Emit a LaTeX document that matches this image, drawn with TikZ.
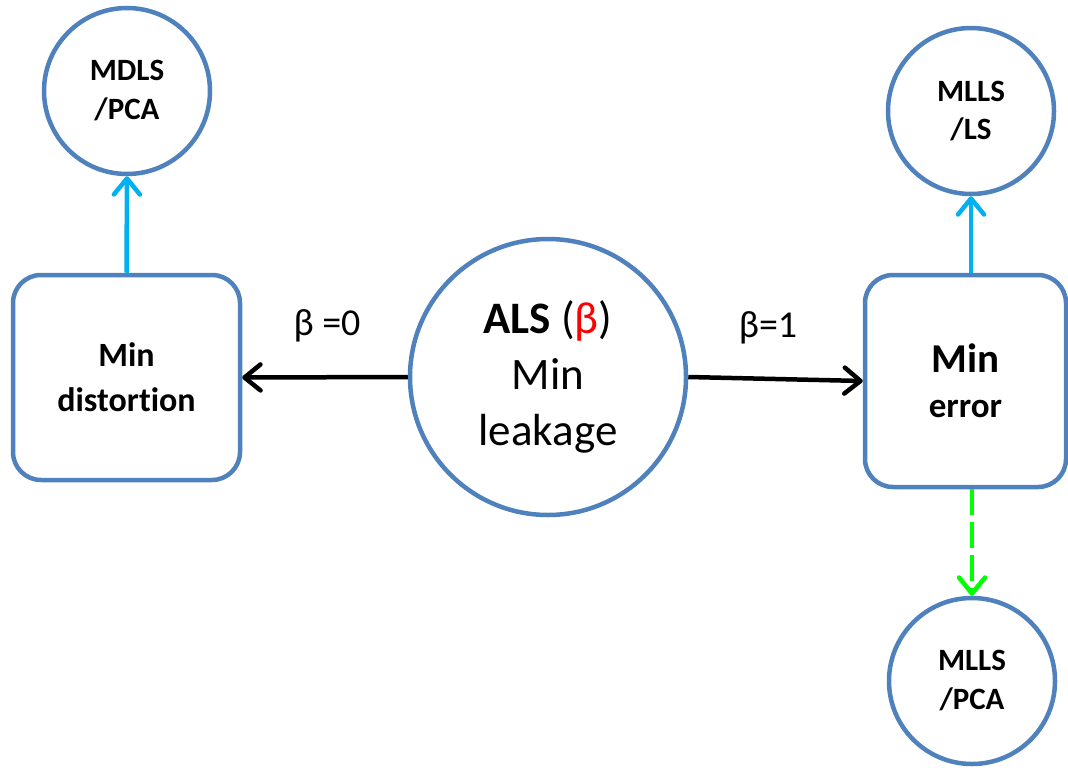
\documentclass[tikz,border=0pt]{standalone}
\usepackage{fontspec}
\setmainfont[Ligatures=NoCommon]{Carlito}
\usetikzlibrary{arrows.meta}
\definecolor{edgeblue}{HTML}{4F81BD}
\definecolor{skyarrow}{HTML}{00B0F0}
\definecolor{limearrow}{HTML}{00FF00}
\definecolor{betared}{HTML}{FF0000}
\newcommand{\fsz}[2]{\fontsize{#1}{#2}\selectfont}
\begin{document}
\begin{tikzpicture}[x=1pt,y=-1pt,
  rbox/.style={draw=edgeblue, line width=4.5pt, rounded corners=28pt, fill=white,
    align=center, inner sep=0pt},
  ring/.style={draw=edgeblue, line width=4.5pt, circle, fill=white,
    align=center, inner sep=0pt},
  tip/.style={-{Straight Barb[length=16pt,width=26pt,round]}},
  mainlink/.style={tip, line width=4.5pt, black},
  uplink/.style={tip, line width=4.5pt, skyarrow},
  downlink/.style={tip, line width=4.5pt, limearrow, dash pattern=on 26pt off 7pt}]
\useasboundingbox (0,0) rectangle (1068,768);

% central node
\node[ring, minimum size=276pt, font=\fsz{45}{56}] (als) at (548,377)
  {\textbf{ALS} ({\color{betared}β})\\Min\\leakage};

% left branch
\node[rbox, minimum width=227pt, minimum height=205pt, font=\fsz{34}{45}\bfseries]
  (mindist) at (126.5,377.5) {Min\\distortion};
\node[ring, minimum size=166pt, font=\fsz{31}{39}\bfseries] (mdls) at (127,91)
  {MDLS\\/PCA};

% right branch
\node[rbox, minimum width=201pt, minimum height=212pt, font=\fsz{35}{45}\bfseries]
  (minerr) at (965.5,381) {\fsz{41}{45}Min\\error};
\node[ring, minimum size=166pt, font=\fsz{31}{38}\bfseries] (mlls) at (971,111)
  {MLLS\\/LS};
\node[ring, minimum size=166pt, font=\fsz{31}{39}\bfseries] (mllspca) at (972,681)
  {MLLS\\/PCA};

% connectors
\draw[mainlink] (als.west) -- (mindist.east);
\draw[mainlink] (als.east) -- (minerr.west);
\draw[uplink] (mindist.north) -- (mdls.south);
\draw[uplink] (minerr.north -| mlls.south) -- (mlls.south);
\draw[downlink] (minerr.south -| mllspca.north) -- (mllspca.north);

% edge labels
\node[font=\fsz{38}{44}] (lbl0) at (327,326) {β =0};
\node[font=\fsz{38}{44}] (lbl1) at (768,328) {β=1};
\end{tikzpicture}
\end{document}
